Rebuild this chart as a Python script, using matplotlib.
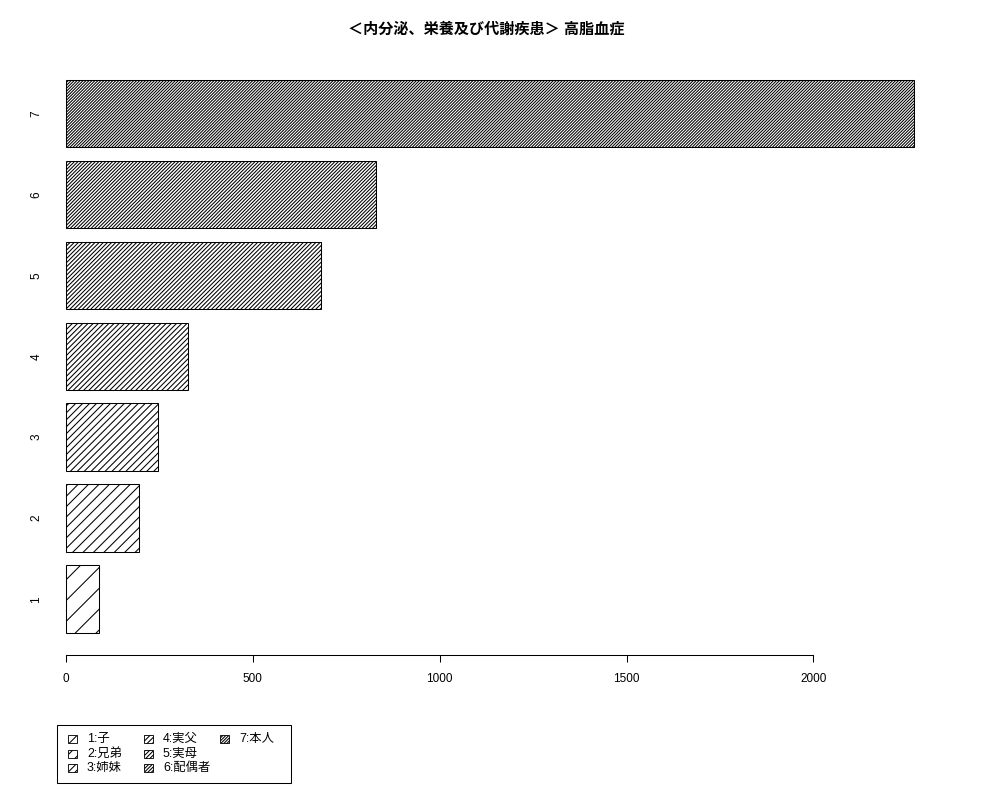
import matplotlib
matplotlib.use("Agg")
import matplotlib.pyplot as plt
from matplotlib.patches import Rectangle

plt.rcParams["font.family"] = ["Liberation Sans", "Noto Sans CJK JP", "DejaVu Sans"]
plt.rcParams["hatch.linewidth"] = 0.6

title = "＜内分泌、栄養及び代謝疾患＞ 高脂血症"
categories = ["1", "2", "3", "4", "5", "6", "7"]
values = [89, 194, 247, 326, 682, 830, 2268]
legend_labels = ["1:子", "2:兄弟", "3:姉妹", "4:実父", "5:実母", "6:配偶者", "7:本人"]
xticks = [0, 500, 1000, 1500, 2000]

# R-style densities: hatch spacing shrinks with the bar index
hatches = ["/" * (2 * (i + 1)) for i in range(len(values))]

W, H = 1000, 800
fig = plt.figure(figsize=(8, 6.4), dpi=125)

# plot region in pixels (left, top, right, bottom)
L, T, R, B = 50, 57.4, 948, 655.1
ax = fig.add_axes([L / W, 1 - B / H, (R - L) / W, (B - T) / H])

ypos = [0.7 + 1.2 * i for i in range(len(values))]
for y, v, h in zip(ypos, values, hatches):
    ax.barh(y, v, height=1.0, color="white", edgecolor="black",
            linewidth=0.6, hatch=h)

ax.set_xlim(-43, 2360)
ax.set_ylim(-0.128, 8.728)

for s in ["top", "right", "left"]:
    ax.spines[s].set_visible(False)
ax.spines["bottom"].set_bounds(xticks[0], xticks[-1])
ax.spines["bottom"].set_linewidth(0.6)

ax.set_xticks(xticks)
ax.set_xticklabels([str(t) for t in xticks], fontsize=6.8)
ax.tick_params(axis="x", length=4, width=0.6, pad=6.2)

ax.set_yticks(ypos)
ax.set_yticklabels(categories, fontsize=6.8, rotation=90, va="center")
ax.tick_params(axis="y", length=0, pad=4.3)

fig.text(486 / W, 1 - 29 / H, title, ha="center", va="center",
         fontsize=8.7, fontweight="bold")

# legend box, laid out like R's legend(ncol=3)
fig.patches.append(Rectangle((57 / W, 1 - 783 / H), (291 - 57) / W, (783 - 725) / H,
                             transform=fig.transFigure, fill=False,
                             edgecolor="black", linewidth=0.6))
col_x = [68, 144, 220]
row_y = [739, 753.5, 768]
for i, (lab, h) in enumerate(zip(legend_labels, hatches)):
    cx = col_x[i // 3]
    cy = row_y[i % 3]
    fig.patches.append(Rectangle((cx / W, 1 - (cy + 4) / H), 9 / W, 8 / H,
                                 transform=fig.transFigure, facecolor="white",
                                 edgecolor="black", linewidth=0.5, hatch=h))
    fig.text((cx + 19) / W, 1 - cy / H, lab, ha="left", va="center", fontsize=7.1)

fig.savefig("out.png", dpi=125)
